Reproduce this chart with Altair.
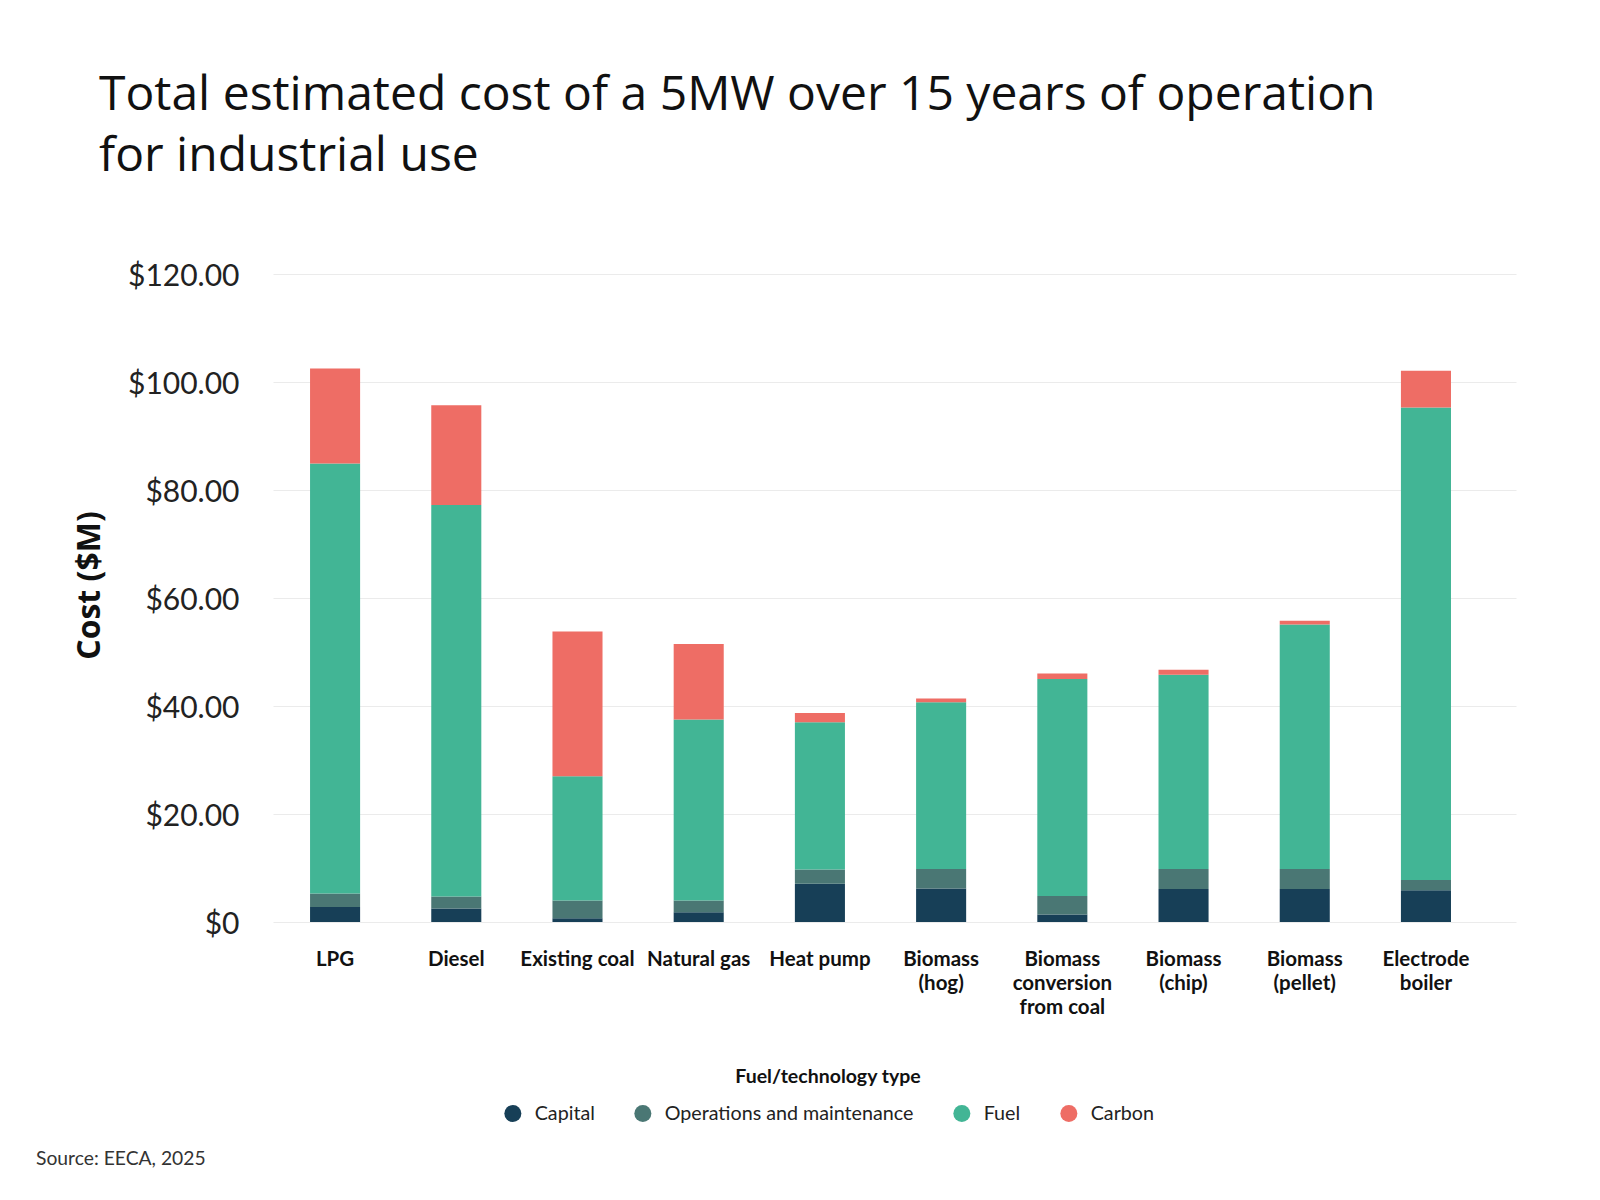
import altair as alt
import pandas as pd

categories = ["LPG", "Diesel", "Existing coal", "Natural gas", "Heat pump",
              "Biomass (hog)", "Biomass conversion from coal", "Biomass (chip)",
              "Biomass (pellet)", "Electrode boiler"]
label_lines = [["LPG"], ["Diesel"], ["Existing coal"], ["Natural gas"], ["Heat pump"],
               ["Biomass", "(hog)"], ["Biomass", "conversion", "from coal"], ["Biomass", "(chip)"],
               ["Biomass", "(pellet)"], ["Electrode", "boiler"]]
components = ["Capital", "Operations and maintenance", "Fuel", "Carbon"]
capital = [2.8, 2.5, 0.7, 1.8, 7.1, 6.2, 1.4, 6.1, 6.1, 5.9]
om = [2.5, 2.2, 3.3, 2.2, 2.6, 3.6, 3.4, 3.7, 3.7, 1.9]
fuel = [79.6, 72.5, 23.0, 33.5, 27.3, 30.9, 40.2, 36.0, 45.3, 87.5]
carbon = [17.6, 18.5, 26.8, 14.0, 1.7, 0.7, 1.0, 0.9, 0.7, 6.8]
colors = ["#173f57", "#4a7774", "#42b595", "#ee6d65"]
source_text = "Source: EECA, 2025"

rows = []
for i, c in enumerate(categories):
    for j, (comp, vals) in enumerate(zip(components, [capital, om, fuel, carbon])):
        rows.append({"category": c, "component": comp, "value": vals[i], "order": j})
df = pd.DataFrame(rows)

mapping = "{" + ",".join(
    "'" + c + "':[" + ",".join("'" + l + "'" for l in lines) + "]"
    for c, lines in zip(categories, label_lines)) + "}"
label_expr = mapping + "[datum.label]"

FONT = "Lato"
TFONT = "Open Sans"

bars = alt.Chart(df).mark_bar().encode(
    x=alt.X("category:N", sort=categories,
            scale=alt.Scale(paddingInner=0.587, paddingOuter=0.421, align=0.363),
            axis=alt.Axis(title=None, labelAngle=0, ticks=False, domain=False, grid=False,
                          labelFont=FONT, labelFontSize=20.5, labelFontWeight="bold",
                          labelColor="#111111", labelPadding=27, labelLineHeight=24,
                          labelLimit=0, labelExpr=label_expr)),
    y=alt.Y("value:Q", stack="zero",
            scale=alt.Scale(domain=[0, 120], nice=False),
            axis=alt.Axis(title="Cost ($M)", values=[0, 20, 40, 60, 80, 100, 120],
                          labelExpr="datum.value == 0 ? '$0' : '$' + format(datum.value, '.2f')",
                          ticks=False, domain=False, labelFont=FONT, labelFontSize=30,
                          labelColor="#222222", labelPadding=34, labelOffset=2,
                          gridColor="#ebebeb", gridWidth=1,
                          titleFont=TFONT, titleFontSize=32, titleFontWeight="bold",
                          titleColor="#111111", titleAngle=-90, titleBaseline="middle",
                          titleX=-184, titleY=311)),
    color=alt.Color("component:N", sort=components,
                    scale=alt.Scale(domain=components, range=colors),
                    legend=alt.Legend(title="Fuel/technology type", orient="none",
                                      legendX=230, legendY=794, direction="horizontal",
                                      titleAnchor="middle", titleFont=FONT, titleFontSize=19.5,
                                      titleFontWeight="bold", titleColor="#111111",
                                      titlePadding=16, titleLimit=0, labelLimit=0,
                                      labelFont=FONT, labelFontSize=19.7,
                                      labelColor="#222222", symbolType="circle",
                                      symbolSize=290, symbolStrokeWidth=0, labelOffset=12,
                                      columnPadding=38, padding=0)),
    order=alt.Order("order:Q", sort="ascending"),
)

source = alt.Chart(pd.DataFrame({"t": [source_text]})).mark_text(
    align="left", baseline="middle", font=FONT, fontSize=19.3, color="#333333"
).encode(text="t:N", x=alt.value(-237), y=alt.value(885))

chart = alt.layer(bars, source).properties(
    width=1243, height=648,
    title=alt.TitleParams(
        text=["Total estimated cost of a 5MW over 15 years of operation", "for industrial use"],
        anchor="start", frame="group", dx=-174, offset=80, font=TFONT, fontSize=48,
        fontWeight="normal", color="#111111", lineHeight=61),
    autosize=alt.AutoSizeParams(type="none"),
    padding={"left": 265, "top": 266, "right": 76, "bottom": 270},
).configure_view(stroke="transparent", strokeWidth=0
).configure_axisX(grid=False, domain=False
).configure(background="white", style={"cell": {"stroke": "transparent", "strokeWidth": 0}})

chart.save("out.html", embed_options={"renderer": "svg", "actions": False})
